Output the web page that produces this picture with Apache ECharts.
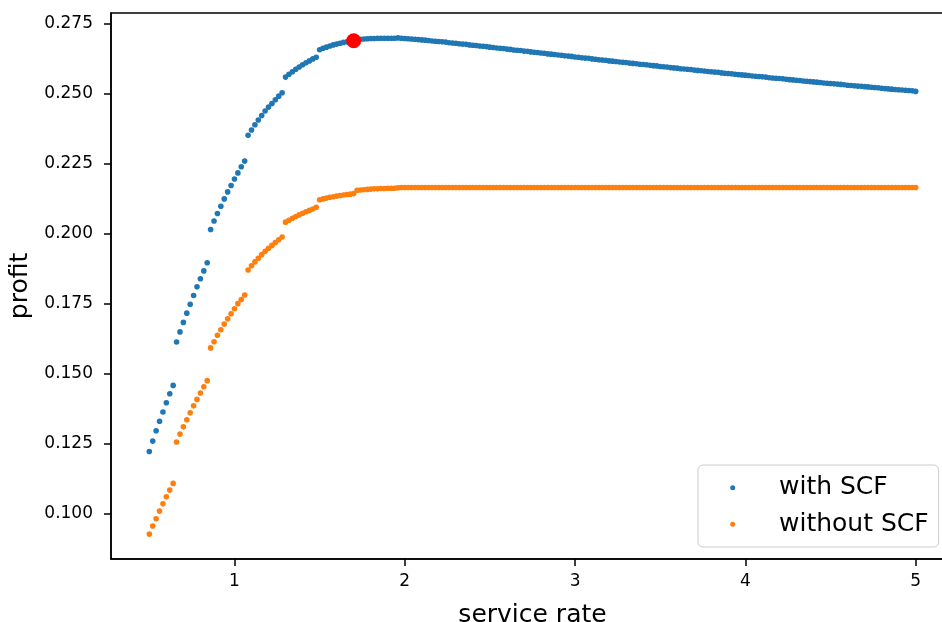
<!DOCTYPE html>
<html>
<head>
<meta charset="utf-8">
<script src="https://cdn.jsdelivr.net/npm/echarts@6/dist/echarts.min.js"></script>
<style>
html,body{margin:0;padding:0;background:#fff;}
#chart{width:942px;height:622px;}
</style>
</head>
<body>
<div id="chart"></div>
<script>
const serviceRate = [
0.50,0.52,0.54,0.56,0.58,0.60,0.62,0.64,0.66,0.68,
0.70,0.72,0.74,0.76,0.78,0.80,0.82,0.84,0.86,0.88,
0.90,0.92,0.94,0.96,0.98,1.00,1.02,1.04,1.06,1.08,
1.10,1.12,1.14,1.16,1.18,1.20,1.22,1.24,1.26,1.28,
1.30,1.32,1.34,1.36,1.38,1.40,1.42,1.44,1.46,1.48,
1.50,1.52,1.54,1.56,1.58,1.60,1.62,1.64,1.66,1.68,
1.70,1.72,1.74,1.76,1.78,1.80,1.82,1.84,1.86,1.88,
1.90,1.92,1.94,1.96,1.98,2.00,2.02,2.04,2.06,2.08,
2.10,2.12,2.14,2.16,2.18,2.20,2.22,2.24,2.26,2.28,
2.30,2.32,2.34,2.36,2.38,2.40,2.42,2.44,2.46,2.48,
2.50,2.52,2.54,2.56,2.58,2.60,2.62,2.64,2.66,2.68,
2.70,2.72,2.74,2.76,2.78,2.80,2.82,2.84,2.86,2.88,
2.90,2.92,2.94,2.96,2.98,3.00,3.02,3.04,3.06,3.08,
3.10,3.12,3.14,3.16,3.18,3.20,3.22,3.24,3.26,3.28,
3.30,3.32,3.34,3.36,3.38,3.40,3.42,3.44,3.46,3.48,
3.50,3.52,3.54,3.56,3.58,3.60,3.62,3.64,3.66,3.68,
3.70,3.72,3.74,3.76,3.78,3.80,3.82,3.84,3.86,3.88,
3.90,3.92,3.94,3.96,3.98,4.00,4.02,4.04,4.06,4.08,
4.10,4.12,4.14,4.16,4.18,4.20,4.22,4.24,4.26,4.28,
4.30,4.32,4.34,4.36,4.38,4.40,4.42,4.44,4.46,4.48,
4.50,4.52,4.54,4.56,4.58,4.60,4.62,4.64,4.66,4.68,
4.70,4.72,4.74,4.76,4.78,4.80,4.82,4.84,4.86,4.88,
4.90,4.92,4.94,4.96,4.98,5.00
];

const profitWithSCF = [
0.1221,0.1258,0.1295,0.1329,0.1362,0.1395,0.1427,0.1457,0.1612,0.1648,
0.1682,0.1715,0.1747,0.1778,0.1809,0.1838,0.1866,0.1895,0.2014,0.2044,
0.2071,0.2097,0.2123,0.2148,0.2171,0.2194,0.2216,0.2238,0.2258,0.2350,
0.2369,0.2388,0.2405,0.2421,0.2437,0.2451,0.2464,0.2477,0.2490,0.2502,
0.2558,0.2568,0.2577,0.2586,0.2594,0.2602,0.2609,0.2616,0.2623,0.2629,
0.2656,0.2661,0.2665,0.2669,0.2673,0.2676,0.2679,0.2682,0.2684,0.2686,
0.2688,0.2692,0.2693,0.2694,0.2695,0.2696,0.2696,0.2697,0.2697,0.2697,
0.2697,0.2697,0.2697,0.2698,0.2697,0.2696,0.2695,0.2694,0.2693,0.2692,
0.2691,0.2690,0.2689,0.2687,0.2686,0.2685,0.2684,0.2683,0.2681,0.2680,
0.2679,0.2677,0.2676,0.2675,0.2673,0.2672,0.2671,0.2669,0.2668,0.2667,
0.2665,0.2664,0.2662,0.2661,0.2660,0.2658,0.2657,0.2655,0.2654,0.2653,
0.2651,0.2650,0.2648,0.2647,0.2646,0.2644,0.2643,0.2641,0.2640,0.2639,
0.2637,0.2636,0.2634,0.2633,0.2632,0.2630,0.2629,0.2627,0.2626,0.2625,
0.2623,0.2622,0.2620,0.2619,0.2618,0.2616,0.2615,0.2614,0.2612,0.2611,
0.2610,0.2608,0.2607,0.2606,0.2604,0.2603,0.2602,0.2600,0.2599,0.2598,
0.2596,0.2595,0.2594,0.2592,0.2591,0.2590,0.2588,0.2587,0.2586,0.2585,
0.2583,0.2582,0.2581,0.2580,0.2578,0.2577,0.2576,0.2575,0.2573,0.2572,
0.2571,0.2570,0.2568,0.2567,0.2566,0.2565,0.2564,0.2562,0.2561,0.2560,
0.2559,0.2558,0.2556,0.2555,0.2554,0.2553,0.2552,0.2550,0.2549,0.2548,
0.2547,0.2546,0.2544,0.2543,0.2542,0.2541,0.2540,0.2539,0.2537,0.2536,
0.2535,0.2534,0.2533,0.2532,0.2531,0.2529,0.2528,0.2527,0.2526,0.2525,
0.2524,0.2523,0.2522,0.2521,0.2520,0.2518,0.2517,0.2516,0.2515,0.2514,
0.2513,0.2512,0.2511,0.2510,0.2509,0.2507
];

const profitWithoutSCF = [
0.0926,0.0955,0.0981,0.1008,0.1034,0.1059,0.1083,0.1107,0.1255,0.1283,
0.1309,0.1334,0.1359,0.1384,0.1407,0.1430,0.1452,0.1474,0.1591,0.1613,
0.1636,0.1656,0.1676,0.1695,0.1713,0.1731,0.1749,0.1764,0.1780,0.1869,
0.1884,0.1898,0.1911,0.1924,0.1936,0.1947,0.1957,0.1967,0.1977,0.1987,
0.2040,0.2047,0.2054,0.2060,0.2066,0.2072,0.2077,0.2082,0.2087,0.2093,
0.2120,0.2123,0.2126,0.2129,0.2131,0.2133,0.2135,0.2137,0.2139,0.2140,
0.2142,0.2154,0.2155,0.2156,0.2157,0.2158,0.2159,0.2159,0.2160,0.2160,
0.2161,0.2161,0.2161,0.2163,0.2164,0.2164,0.2164,0.2164,0.2164,0.2164,
0.2164,0.2164,0.2164,0.2164,0.2164,0.2164,0.2164,0.2164,0.2164,0.2164,
0.2164,0.2164,0.2164,0.2164,0.2164,0.2164,0.2164,0.2164,0.2164,0.2164,
0.2164,0.2164,0.2164,0.2164,0.2164,0.2164,0.2164,0.2164,0.2164,0.2164,
0.2164,0.2164,0.2164,0.2164,0.2164,0.2164,0.2164,0.2164,0.2164,0.2164,
0.2164,0.2164,0.2164,0.2164,0.2164,0.2164,0.2164,0.2164,0.2164,0.2164,
0.2164,0.2164,0.2164,0.2164,0.2164,0.2164,0.2164,0.2164,0.2164,0.2164,
0.2164,0.2164,0.2164,0.2164,0.2164,0.2164,0.2164,0.2164,0.2164,0.2164,
0.2164,0.2164,0.2164,0.2164,0.2164,0.2164,0.2164,0.2164,0.2164,0.2164,
0.2164,0.2164,0.2164,0.2164,0.2164,0.2164,0.2164,0.2164,0.2164,0.2164,
0.2164,0.2164,0.2164,0.2164,0.2164,0.2164,0.2164,0.2164,0.2164,0.2164,
0.2164,0.2164,0.2164,0.2164,0.2164,0.2164,0.2164,0.2164,0.2164,0.2164,
0.2164,0.2164,0.2164,0.2164,0.2164,0.2164,0.2164,0.2164,0.2164,0.2164,
0.2164,0.2164,0.2164,0.2164,0.2164,0.2164,0.2164,0.2164,0.2164,0.2164,
0.2164,0.2164,0.2164,0.2164,0.2164,0.2164,0.2164,0.2164,0.2164,0.2164,
0.2164,0.2164,0.2164,0.2164,0.2164,0.2164
];

const optimumPoint = [1.70, 0.2688];

const xTicks = [1, 2, 3, 4, 5];
const yTicks = [0.100, 0.125, 0.150, 0.175, 0.200, 0.225, 0.250, 0.275];

const seriesNames = ['with SCF', 'without SCF'];

function pairs(xs, ys) {
  const out = [];
  for (let i = 0; i < xs.length && i < ys.length; i++) out.push([xs[i], ys[i]]);
  return out;
}

const FONT = '"DejaVu Sans", sans-serif';
const chart = echarts.init(document.getElementById('chart'), null, { renderer: 'canvas' });

chart.setOption({
  animation: false,
  backgroundColor: '#ffffff',
  grid: {
    left: 111, top: 13, width: 843, height: 546,
    containLabel: false, outerBoundsMode: 'none',
    show: true, borderColor: '#000', borderWidth: 1.5, backgroundColor: 'transparent'
  },
  legend: {
    data: seriesNames.map(n => ({ name: n, icon: 'circle' })),
    orient: 'vertical',
    left: 698, top: 465,
    padding: [8.7, 10, 8.7, 32.2],
    itemGap: 8.6,
    itemWidth: 5, itemHeight: 5,
    backgroundColor: 'rgba(255,255,255,0.8)',
    borderColor: '#cccccc', borderWidth: 1, borderRadius: 5,
    selectedMode: false,
    textStyle: { fontFamily: FONT, fontSize: 25, color: '#000', lineHeight: 28, padding: [0, 0, 0, 38.8] }
  },
  xAxis: {
    type: 'value', min: 0.275, max: 5.225,
    name: 'service rate', nameLocation: 'middle', nameGap: 44,
    nameTextStyle: { fontFamily: FONT, fontSize: 25, color: '#000' },
    splitLine: { show: false },
    axisLine: { show: true, onZero: false, lineStyle: { color: '#000', width: 1.5 } },
    axisTick: { show: true, length: 7, lineStyle: { color: '#000', width: 1.5 }, customValues: xTicks },
    axisLabel: { fontFamily: FONT, fontSize: 17, color: '#000', margin: 14, customValues: xTicks,
      formatter: v => String(Math.round(v)) }
  },
  yAxis: {
    type: 'value', min: 0.0837, max: 0.2787,
    name: 'profit', nameLocation: 'middle', nameGap: 75,
    nameTextStyle: { fontFamily: FONT, fontSize: 25, color: '#000' },
    splitLine: { show: false },
    axisLine: { show: true, onZero: false, lineStyle: { color: '#000', width: 1.5 } },
    axisTick: { show: true, length: 7, lineStyle: { color: '#000', width: 1.5 }, customValues: yTicks },
    axisLabel: { fontFamily: FONT, fontSize: 17, color: '#000', margin: 18, customValues: yTicks,
      formatter: v => v.toFixed(3) }
  },
  series: [
    {
      name: seriesNames[0], type: 'scatter', symbol: 'circle', symbolSize: 5.6,
      itemStyle: { color: '#1f77b4', opacity: 1 }, silent: true,
      data: pairs(serviceRate, profitWithSCF), z: 2
    },
    {
      name: seriesNames[1], type: 'scatter', symbol: 'circle', symbolSize: 5.6,
      itemStyle: { color: '#ff7f0e', opacity: 1 }, silent: true,
      data: pairs(serviceRate, profitWithoutSCF), z: 2
    },
    {
      name: 'optimum', type: 'scatter', symbol: 'circle', symbolSize: 15,
      itemStyle: { color: '#ff0000', opacity: 1 }, silent: true,
      data: [optimumPoint], z: 3
    }
  ]
});
</script>
</body>
</html>
